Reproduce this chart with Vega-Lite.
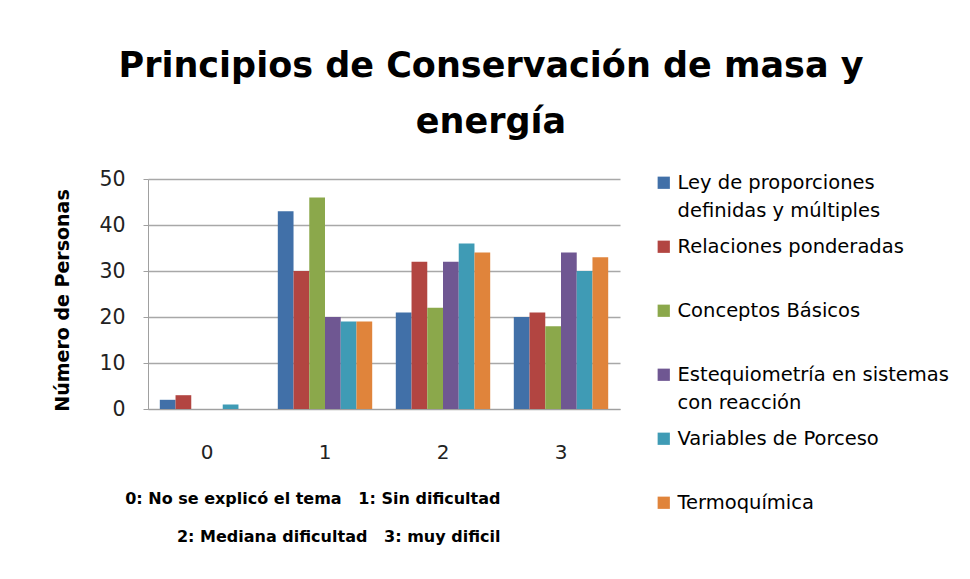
{
  "$schema": "https://vega.github.io/schema/vega-lite/v6.json",
  "autosize": {"type": "none"},
  "padding": {"left": 148, "top": 179, "right": 350, "bottom": 170},
  "width": 472,
  "height": 230,
  "background": "white",
  "title": {
    "text": ["Principios de Conservación de masa y", "energía"],
    "font": "DejaVu Sans",
    "fontSize": 35,
    "fontWeight": "bold",
    "color": "#000000",
    "lineHeight": 56,
    "anchor": "middle",
    "frame": "group",
    "dx": 107,
    "offset": 29
  },
  "data": {
    "values": [
      {"g": "0", "s": "Ley de proporciones definidas y múltiples", "v": 2},
      {"g": "0", "s": "Relaciones ponderadas", "v": 3},
      {"g": "0", "s": "Conceptos Básicos", "v": 0},
      {"g": "0", "s": "Estequiometría en sistemas con reacción", "v": 0},
      {"g": "0", "s": "Variables de Porceso", "v": 1},
      {"g": "0", "s": "Termoquímica", "v": 0},
      {"g": "1", "s": "Ley de proporciones definidas y múltiples", "v": 43},
      {"g": "1", "s": "Relaciones ponderadas", "v": 30},
      {"g": "1", "s": "Conceptos Básicos", "v": 46},
      {"g": "1", "s": "Estequiometría en sistemas con reacción", "v": 20},
      {"g": "1", "s": "Variables de Porceso", "v": 19},
      {"g": "1", "s": "Termoquímica", "v": 19},
      {"g": "2", "s": "Ley de proporciones definidas y múltiples", "v": 21},
      {"g": "2", "s": "Relaciones ponderadas", "v": 32},
      {"g": "2", "s": "Conceptos Básicos", "v": 22},
      {"g": "2", "s": "Estequiometría en sistemas con reacción", "v": 32},
      {"g": "2", "s": "Variables de Porceso", "v": 36},
      {"g": "2", "s": "Termoquímica", "v": 34},
      {"g": "3", "s": "Ley de proporciones definidas y múltiples", "v": 20},
      {"g": "3", "s": "Relaciones ponderadas", "v": 21},
      {"g": "3", "s": "Conceptos Básicos", "v": 18},
      {"g": "3", "s": "Estequiometría en sistemas con reacción", "v": 34},
      {"g": "3", "s": "Variables de Porceso", "v": 30},
      {"g": "3", "s": "Termoquímica", "v": 33}
    ]
  },
  "mark": {"type": "bar"},
  "encoding": {
    "x": {
      "field": "g",
      "type": "nominal",
      "scale": {"paddingInner": 0.2, "paddingOuter": 0.1},
      "axis": {
        "title": ["0: No se explicó el tema \u00a0 1: Sin dificultad", "2: Mediana dificultad \u00a0 3: muy dificil"],
        "titleFont": "DejaVu Sans",
        "titleFontSize": 16,
        "titleFontWeight": "bold",
        "titleColor": "#000000",
        "titleAlign": "right",
        "titleAnchor": null,
        "titleX": 352,
        "titleY": 94,
        "titleBaseline": "alphabetic",
        "titleLineHeight": 38,
        "labelAngle": 0,
        "labelFont": "DejaVu Sans",
        "labelFontSize": 20,
        "labelColor": "#222222",
        "labelPadding": 33,
        "ticks": false,
        "domainColor": "#A0A0A0",
        "grid": false
      }
    },
    "xOffset": {
      "field": "s",
      "type": "nominal",
      "scale": {"domain": ["Ley de proporciones definidas y múltiples", "Relaciones ponderadas", "Conceptos Básicos", "Estequiometría en sistemas con reacción", "Variables de Porceso", "Termoquímica"]}
    },
    "y": {
      "field": "v",
      "type": "quantitative",
      "scale": {"domain": [0, 50]},
      "axis": {
        "values": [0, 10, 20, 30, 40, 50],
        "title": "Número de Personas",
        "titleFont": "DejaVu Sans",
        "titleFontSize": 19,
        "titleFontWeight": "bold",
        "titleColor": "#000000",
        "titleX": -86,
        "titleY": 121,
        "titleAngle": -90,
        "titleAlign": "center",
        "titleBaseline": "middle",
        "labelFont": "DejaVu Sans",
        "labelFontSize": 20.5,
        "labelColor": "#222222",
        "labelPadding": 18,
        "tickSize": 5,
        "tickColor": "#A0A0A0",
        "domainColor": "#A0A0A0",
        "gridColor": "#A8A8A8",
        "gridWidth": 1.3
      }
    },
    "color": {
      "field": "s",
      "type": "nominal",
      "scale": {
        "domain": ["Ley de proporciones definidas y múltiples", "Relaciones ponderadas", "Conceptos Básicos", "Estequiometría en sistemas con reacción", "Variables de Porceso", "Termoquímica"],
        "range": ["#4170A8", "#B24541", "#8BA84B", "#6F5792", "#3F9BB5", "#E0843B"]
      },
      "legend": {
        "title": null,
        "orient": "none",
        "legendX": 506,
        "legendY": -6,
        "symbolType": "square",
        "symbolSize": 150,
        "symbolStrokeWidth": 0,
        "labelFont": "DejaVu Sans",
        "labelFontSize": 19.5,
        "labelColor": "#000000",
        "labelBaseline": "middle",
        "labelLimit": 320,
        "labelOffset": 4,
        "rowPadding": 15,
        "labelExpr": "datum.label == 'Ley de proporciones definidas y múltiples' ? ['Ley de proporciones', 'definidas y múltiples'] : datum.label == 'Estequiometría en sistemas con reacción' ? ['Estequiometría en sistemas', 'con reacción'] : [datum.label, '']"
      }
    }
  },
  "config": {
    "view": {"stroke": null},
    "style": {"guide-label": {"lineHeight": 28}}
  }
}
